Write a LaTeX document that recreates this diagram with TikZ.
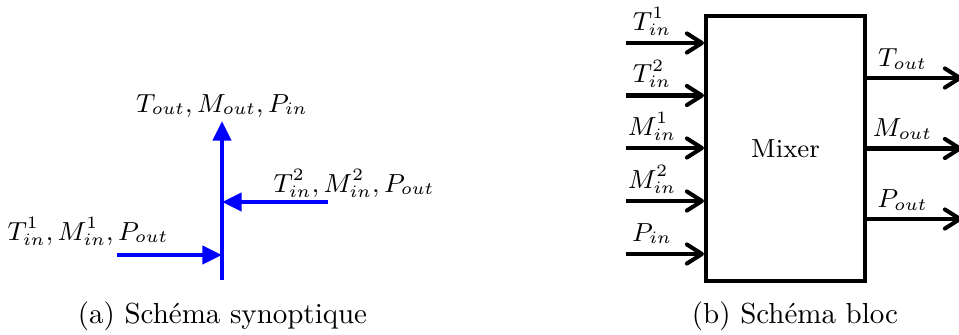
\documentclass[tikz,border=0pt]{standalone}
\usetikzlibrary{arrows.meta}
\begin{document}
\begin{tikzpicture}[x=0.345pt,y=-0.345pt,
  flow/.style={draw=blue,line width=1.6pt,-{Triangle[length=6.8pt,width=6.2pt]}},
  flowline/.style={draw=blue,line width=1.6pt},
  sig/.style={draw=black,line width=1.4pt,-{Straight Barb[length=5.2pt,width=6.6pt,line join=round,line cap=round]}},
  lbl/.style={anchor=base,inner sep=0pt,font=\small},
  caplbl/.style={anchor=base,inner sep=0pt},
  blockbox/.style={draw,line width=1.4pt,minimum width=54.86pt,minimum height=91.4pt,inner sep=0pt,font=\small}]
\useasboundingbox (0,0) rectangle (959,334);
% ---- (a) ----
\coordinate (vb) at (222,280);
\coordinate (vt) at (222,121);
\coordinate (r2) at (328,202);
\coordinate (m2) at (222,202);
\coordinate (l1) at (117,255);
\coordinate (m1) at (222,255);
\draw[flowline] (vb) -- (m1);
\draw[flow] (m1) -- (vt);
\draw[flow] (r2) -- (m2);
\draw[flow] (l1) -- (m1);
\node[lbl] (la) at (222,112) {$T_{out}, M_{out}, P_{in}$};
\node[lbl] (lb) at (354,192) {$T_{in}^2, M_{in}^2, P_{out}$};
\node[lbl] (lc) at (88,240) {$T_{in}^1, M_{in}^1, P_{out}$};
\node[caplbl] (capa) at (222.5,323) {(a) Schéma synoptique};
% ---- (b) ----
\node[blockbox] (mixer) at (785.5,148.5) {Mixer};
\coordinate (i1) at (626,43);
\coordinate (i2) at (626,95.5);
\coordinate (i3) at (626,148);
\coordinate (i4) at (626,201);
\coordinate (i5) at (626,254);
\foreach \c in {i1,i2,i3,i4,i5}{
  \draw[sig] (\c) -- (\c -| mixer.west);
}
\node[lbl] (t1) at (652,30) {$T_{in}^1$};
\node[lbl] (t2) at (652,82.5) {$T_{in}^2$};
\node[lbl] (m1l) at (652,135) {$M_{in}^1$};
\node[lbl] (m2l) at (652,188) {$M_{in}^2$};
\node[lbl] (pin) at (652,241) {$P_{in}$};
\coordinate (o1) at (962,78);
\coordinate (o2) at (962,148.5);
\coordinate (o3) at (962,219);
\foreach \c in {o1,o2,o3}{
  \draw[sig] (\c -| mixer.east) -- (\c);
}
\node[lbl] (tout) at (902.5,66.5) {$T_{out}$};
\node[lbl] (mout) at (902.5,136.5) {$M_{out}$};
\node[lbl] (pout) at (902.5,207.5) {$P_{out}$};
\node[caplbl] (capb) at (795,323) {(b) Schéma bloc};
\end{tikzpicture}
\end{document}
